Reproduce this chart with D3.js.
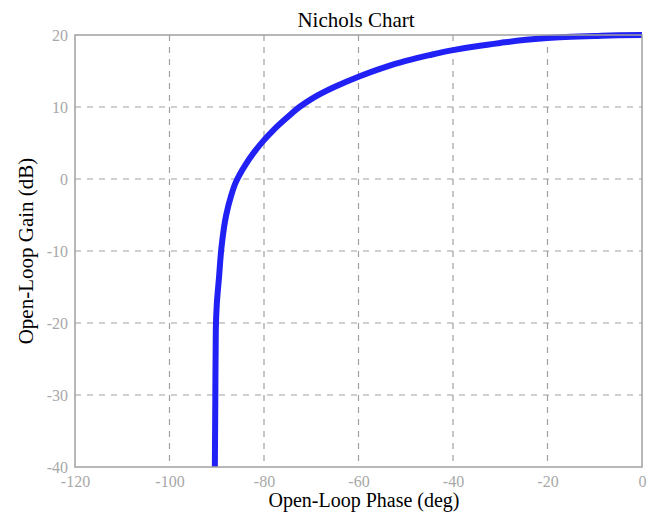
<!DOCTYPE html>
<html>
<head>
<meta charset="utf-8">
<script src="https://cdn.jsdelivr.net/npm/d3@7"></script>
<style>
  body { margin: 0; background: #fff; }
  text { font-family: "Liberation Serif", "Times New Roman", serif; }
</style>
</head>
<body>
<div id="chart"></div>
<script>
// Data
const phase = [0, -5, -10, -15, -20, -25, -30, -35, -40, -45, -50, -55, -60, -65, -70, -72.5,
  -75, -78, -80, -82, -84, -86, -87, -88, -89, -89.5, -90, -90.2, -90.3, -90.4];
const gain = [20, 19.95, 19.85, 19.75, 19.6, 19.3, 18.9, 18.45, 17.9, 17.2, 16.4, 15.4, 14.2, 12.8, 11.1, 10,
  8.6, 6.8, 5.4, 3.8, 1.9, -0.5, -2.4, -5, -9.5, -13.5, -17.5, -21, -30, -40];
const xTicks = [-120, -100, -80, -60, -40, -20, 0];
const yTicks = [-40, -30, -20, -10, 0, 10, 20];

// Dimensions and margins
const W = 655, H = 512;
const margin = { top: 35, right: 13, bottom: 45, left: 75 };
const width = W - margin.left - margin.right;
const height = H - margin.top - margin.bottom;

// Scales
const x = d3.scaleLinear().domain([-120, 0]).range([0, width]);
const y = d3.scaleLinear().domain([-40, 20]).range([height, 0]);

const svg = d3.select('#chart')
  .append('svg')
  .attr('width', W)
  .attr('height', H);

const g = svg.append('g')
  .attr('transform', `translate(${margin.left},${margin.top})`);

// Grid lines
g.selectAll('.vgrid')
  .data(xTicks.slice(1, -1))
  .join('line')
  .attr('x1', d => x(d)).attr('x2', d => x(d))
  .attr('y1', 0).attr('y2', height)
  .attr('stroke', '#a0a0a0')
  .attr('stroke-width', 1.2)
  .attr('stroke-dasharray', '6,6');

g.selectAll('.hgrid')
  .data(yTicks.slice(1, -1))
  .join('line')
  .attr('x1', 0).attr('x2', width)
  .attr('y1', d => y(d)).attr('y2', d => y(d))
  .attr('stroke', '#a0a0a0')
  .attr('stroke-width', 1.2)
  .attr('stroke-dasharray', '6,6');

// Curve
const points = phase.map((p, i) => ({ p: p, g: gain[i] }));
const line = d3.line()
  .x(d => x(d.p))
  .y(d => y(d.g))
  .curve(d3.curveMonotoneY);

g.append('path')
  .datum(points)
  .attr('fill', 'none')
  .attr('stroke', '#2121f6')
  .attr('stroke-width', 6)
  .attr('d', line);

// Frame
g.append('rect')
  .attr('width', width)
  .attr('height', height)
  .attr('fill', 'none')
  .attr('stroke', '#a0a0a0')
  .attr('stroke-width', 1.5);

// Axes (plain hyphen minus, like the reference)
const fmt = d => String(d);
const xAxis = g.append('g')
  .attr('transform', `translate(0,${height})`)
  .call(d3.axisBottom(x).tickValues(xTicks).tickFormat(fmt).tickSize(0).tickPadding(9));
const yAxis = g.append('g')
  .call(d3.axisLeft(y).tickValues(yTicks).tickFormat(fmt).tickSize(0).tickPadding(7));

[xAxis, yAxis].forEach(a => {
  a.select('.domain').remove();
  a.selectAll('text')
    .attr('fill', '#a8a8a8')
    .style('font-family', '"Liberation Serif", serif')
    .style('font-size', '16px');
});

// Title and labels
svg.append('text')
  .attr('x', 356).attr('y', 27)
  .attr('text-anchor', 'middle')
  .style('font-size', '21px')
  .text('Nichols Chart');

svg.append('text')
  .attr('x', 364).attr('y', 507)
  .attr('text-anchor', 'middle')
  .style('font-size', '20px')
  .text('Open-Loop Phase (deg)');

svg.append('text')
  .attr('transform', 'translate(33,251) rotate(-90)')
  .attr('text-anchor', 'middle')
  .style('font-size', '21px')
  .text('Open-Loop Gain (dB)');
</script>
</body>
</html>
